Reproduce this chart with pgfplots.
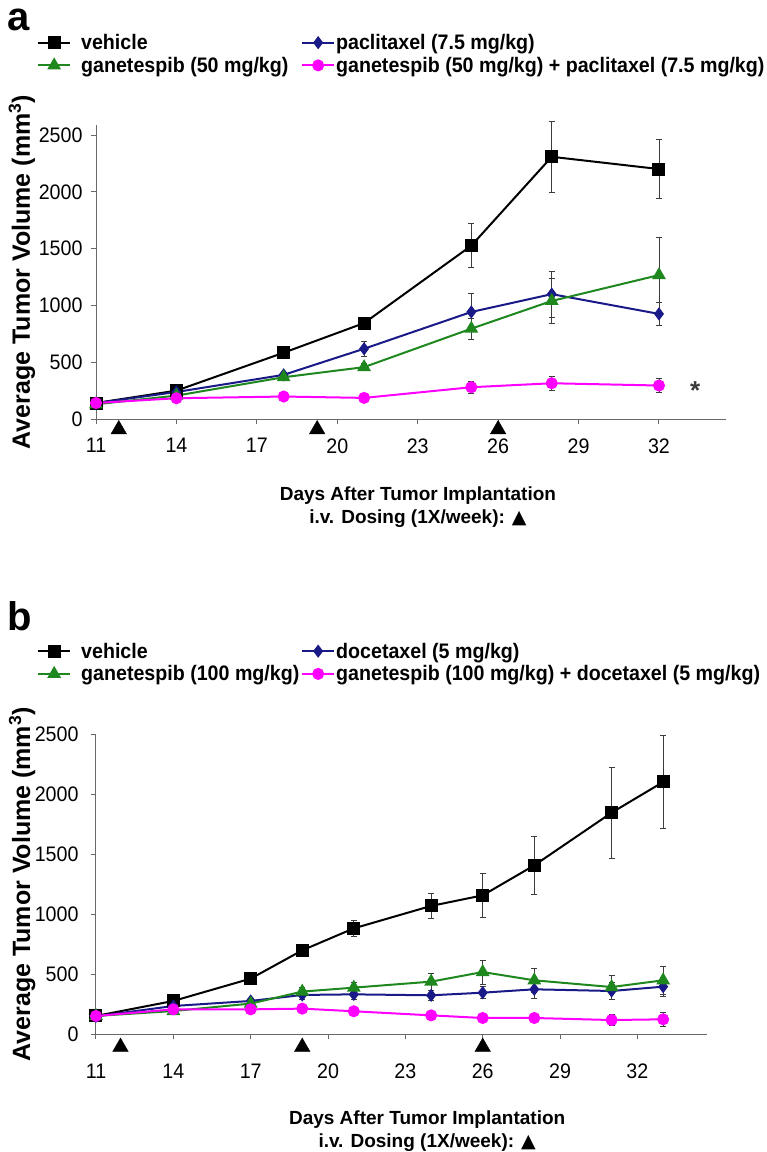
\documentclass[border=0pt]{standalone}
\usepackage{fontspec}
\setmainfont{Liberation Sans}
\newfontfamily\narrowfont{Liberation Sans}[FakeStretch=0.935]
\newfontfamily\dejavu{DejaVu Sans}
\usepackage{pgfplots}
\usepackage{pgfplotstable}
\pgfplotsset{compat=1.18}

\definecolor{navyc}{RGB}{25,25,135}
\definecolor{greenc}{RGB}{30,135,30}
\definecolor{pinkc}{RGB}{255,0,255}
\definecolor{axisc}{RGB}{105,105,105}
\definecolor{errc}{RGB}{60,60,60}

% panel a: day, mean, error
\pgfplotstableread{
d v e
11 141 10
14 250 20
18 584 35
21 845 40
25 1527 195
28 2310 310
32 2202 260
}\aveh
\pgfplotstableread{
d v e
11 140 10
14 238 15
18 389 20
21 619 65
25 943 165
28 1100 205
32 926 100
}\apac
\pgfplotstableread{
d v e
11 130 10
14 206 15
18 368 25
21 457 30
25 796 90
28 1040 200
32 1268 335
}\agan
\pgfplotstableread{
d v e
11 141 10
14 183 15
18 198 15
21 186 15
25 280 50
28 315 65
32 295 60
}\acomb

% panel b
\pgfplotstableread{
d v e
11 153 10
14 278 15
17 464 20
19 700 20
21 883 70
24 1070 105
26 1158 180
28 1408 245
31 1847 380
33 2103 385
}\bveh
\pgfplotstableread{
d v e
11 150 10
14 236 20
17 278 20
19 328 40
21 333 40
24 325 45
26 347 50
28 375 75
31 361 70
33 397 80
}\bdoc
\pgfplotstableread{
d v e
11 153 10
14 194 20
17 256 20
19 356 35
21 389 45
24 439 70
26 519 100
28 450 100
31 394 100
33 450 115
}\bgan
\pgfplotstableread{
d v e
11 153 10
14 208 20
17 208 15
19 214 20
21 192 20
24 158 15
26 136 15
28 136 20
31 119 45
33 125 60
}\bcomb

\pgfplotsset{
  tumor/.style={
    scale only axis, clip=false,
    axis x line*=bottom, axis y line*=left,
    axis line style={axisc, line width=1pt, -},
    tick align=outside, major tick length=5pt,
    tick style={axisc, line width=1pt},
    xtick={11,14,...,32}, ytick={0,500,...,2500},
    xmin=11, ymin=0,
    tick label style={font=\narrowfont\fontsize{21}{24}\selectfont},
    /pgf/number format/assume math mode=true,
    /pgf/number format/1000 sep={},
    legend columns=2,
    legend cell align=left,
    legend style={draw=none, fill=none, inner sep=0pt, row sep=4pt, column sep=0pt,
      font=\narrowfont\bfseries\fontsize{21}{24}\selectfont, nodes={inner sep=1pt}},
    legend image code/.code={
      \draw[mark repeat=2, mark phase=2, #1] plot coordinates {(0pt,0pt) (16pt,0pt) (32pt,0pt)};},
    ylabel={Average Tumor Volume (mm\textsuperscript{3})},
    ylabel style={font=\bfseries\fontsize{25}{28}\selectfont, anchor=center},
    xlabel={Days After Tumor Implantation\\i.v. Dosing (1X/week): {\dejavu ▲}},
    xlabel style={font=\bfseries\fontsize{19}{22.5}\selectfont, align=center, anchor=center},
  },
  veh/.style={black, line width=2pt, mark=square*, mark size=5.5pt, mark options={solid, fill=black}},
  drug/.style={navyc, line width=2pt, mark=diamond*, mark size=5pt, mark options={solid, fill=navyc}},
  gan/.style={greenc, line width=2pt, mark=triangle*, mark size=6pt, mark options={solid, fill=greenc}},
  comb/.style={pinkc, line width=2pt, mark=*, mark size=5pt, mark options={solid, fill=pinkc}},
  errs/.style={error bars/.cd, y dir=both, y explicit,
    error bar style={errc, line width=0.7pt, solid},
    error mark options={rotate=90, mark size=3pt, errc, line width=0.7pt}},
  dose/.style={only marks, mark=triangle*, mark size=9pt, black, forget plot},
}

\begin{document}
\begin{tikzpicture}
\path[use as bounding box] (0pt,0pt) rectangle (767pt,-1152pt);

\node[anchor=base west, font=\bfseries\fontsize{40}{40}\selectfont, inner sep=0pt] at (7pt,-30pt) {a};
\node[anchor=base west, font=\bfseries\fontsize{40}{40}\selectfont, inner sep=0pt] at (7pt,-630pt) {b};

% panel a
\begin{axis}[tumor,
  at={(96pt,-419pt)}, anchor=south west,
  width=630pt, height=294pt,
  xmax=34.5, ymax=2590,
  xticklabel style={yshift=-11pt},
  yticklabel style={xshift=-5pt},
  ylabel style={at={(axis description cs:-0.1175,0.5)}},
  xlabel style={at={(axis description cs:0.511,-0.299)}},
  legend style={at={(axis description cs:-0.0937,1.3125)}, anchor=north west},
]
\addplot[veh, errs] table[x=d, y=v, y error=e] {\aveh};
\addlegendentry{\makebox[228pt][l]{\hspace{9pt}vehicle}}
\addplot[drug, errs] table[x=d, y=v, y error=e] {\apac};
\addlegendentry{paclitaxel (7.5 mg/kg)}
\addplot[gan, errs] table[x=d, y=v, y error=e] {\agan};
\addlegendentry{\makebox[228pt][l]{\hspace{9pt}ganetespib (50 mg/kg)}}
\addplot[comb, errs] table[x=d, y=v, y error=e] {\acomb};
\addlegendentry{ganetespib (50 mg/kg) + paclitaxel (7.5 mg/kg)}
\addplot[dose] coordinates {(11.85,-92) (19.25,-92) (26,-92)};
\node[font=\bfseries\fontsize{26}{26}\selectfont, text=errc, yshift=-6pt] at (axis cs:33.35,300) {*};
\end{axis}

% panel b
\begin{axis}[tumor,
  at={(96pt,-1034.3pt)}, anchor=south west,
  width=611pt, height=300pt,
  xmax=34.7, ymax=2500,
  xticklabel style={yshift=-21pt},
  yticklabel style={xshift=-9pt},
  ylabel style={at={(axis description cs:-0.121,0.5)}},
  xlabel style={at={(axis description cs:0.542,-0.322)}},
  legend style={at={(axis description cs:-0.0966,1.309)}, anchor=north west},
]
\addplot[veh, errs] table[x=d, y=v, y error=e] {\bveh};
\addlegendentry{\makebox[228pt][l]{\hspace{9pt}vehicle}}
\addplot[drug, errs] table[x=d, y=v, y error=e] {\bdoc};
\addlegendentry{docetaxel (5 mg/kg)}
\addplot[gan, errs] table[x=d, y=v, y error=e] {\bgan};
\addlegendentry{\makebox[228pt][l]{\hspace{9pt}ganetespib (100 mg/kg)}}
\addplot[comb, errs] table[x=d, y=v, y error=e] {\bcomb};
\addlegendentry{ganetespib (100 mg/kg) + docetaxel (5 mg/kg)}
\addplot[dose] coordinates {(11.95,-106) (19,-106) (26,-106)};
\end{axis}
\end{tikzpicture}
\end{document}
